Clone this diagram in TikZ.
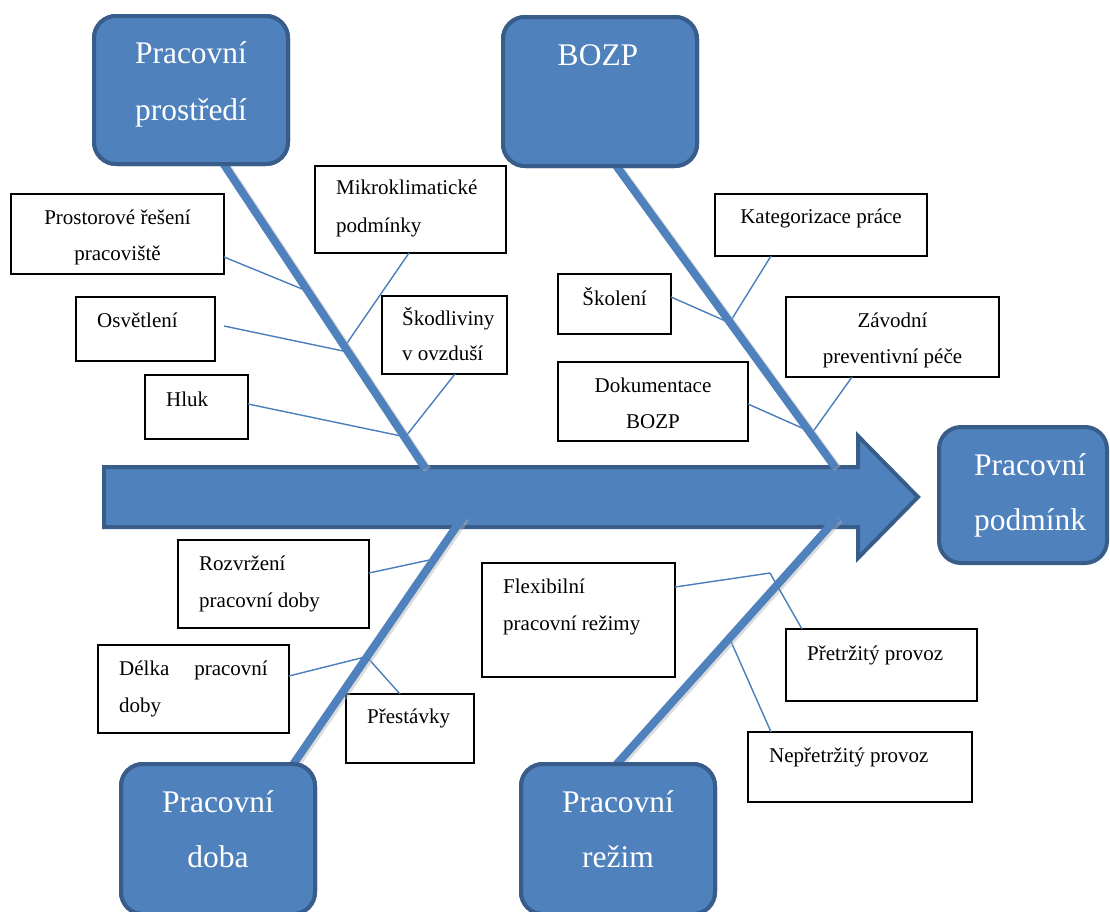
\documentclass[tikz,border=0pt]{standalone}
\usepackage{fontspec}
\setmainfont{Liberation Serif}
\usetikzlibrary{calc}
\definecolor{fillblue}{HTML}{4F81BD}
\definecolor{edgeblue}{HTML}{385D8A}
\definecolor{linkblue}{HTML}{4A7EBB}
\begin{document}
\begin{tikzpicture}[x=1pt,y=-1pt,
  bigbox/.style={draw=edgeblue, fill=fillblue, line width=4pt, rounded corners=22pt, inner sep=0pt, outer sep=0pt},
  bigtext/.style={text=white, font=\fontsize{31.5}{38}\selectfont, anchor=base, inner sep=0pt},
  smallbox/.style={draw=black, line width=1.6pt, fill=white, inner sep=0pt, outer sep=0pt},
  lt/.style={font=\fontsize{21}{25}\selectfont, anchor=base west, inner sep=0pt},
  ct/.style={font=\fontsize{21}{25}\selectfont, anchor=base, inner sep=0pt},
  rt/.style={font=\fontsize{21}{25}\selectfont, anchor=base east, inner sep=0pt},
  bone/.style={draw=fillblue, line width=8pt},
  boneshadow/.style={draw=black!30, line width=8pt, opacity=0.45},
  link/.style={draw=linkblue, line width=1.4pt},
  spine/.style={draw=edgeblue, fill=fillblue, line width=4pt}
]
\useasboundingbox (0,0) rectangle (1110,911);
\clip (0,0) rectangle (1110,911);

% spine arrow
\draw[spine] (104,467) -- (858,467) -- (858,436) -- (918,497) -- (858,558) -- (858,527) -- (104,527) -- cycle;

% big boxes
\node[bigbox, minimum width=194pt, minimum height=148pt] (pp) at (191,90) {};
\node[bigbox, minimum width=194pt, minimum height=149pt] (bozp) at (600,91.5) {};
\node[bigbox, minimum width=168pt, minimum height=136pt] (podm) at (1023,495) {};
\node[bigbox, minimum width=194pt, minimum height=150pt] (doba) at (218,839) {};
\node[bigbox, minimum width=194pt, minimum height=150pt] (rezim) at (618,839) {};

% bone end points
\coordinate (b1s) at (221,160);
\coordinate (b1e) at (425,468);
\coordinate (b2s) at (612,160);
\coordinate (b2e) at (835,467);
\coordinate (b3s) at (463,517);
\coordinate (b3e) at (292,766);
\coordinate (b4s) at (837,518);
\coordinate (b4e) at (615,766);

% small boxes
\node[smallbox, minimum width=213pt, minimum height=80pt] (prost) at (117.5,234) {};
\node[smallbox, minimum width=139pt, minimum height=64pt] (osv) at (145.5,329) {};
\node[smallbox, minimum width=103pt, minimum height=64pt] (hluk) at (196.5,407) {};
\node[smallbox, minimum width=191pt, minimum height=87pt] (mikro) at (410.5,209.5) {};
\node[smallbox, minimum width=125pt, minimum height=78pt] (skod) at (444.5,335) {};
\node[smallbox, minimum width=212pt, minimum height=62pt] (kateg) at (821,225) {};
\node[smallbox, minimum width=113pt, minimum height=60pt] (skol) at (614.5,304) {};
\node[smallbox, minimum width=190pt, minimum height=79pt] (doku) at (653,401.5) {};
\node[smallbox, minimum width=213pt, minimum height=80pt] (zavod) at (892.5,337) {};
\node[smallbox, minimum width=191pt, minimum height=88pt] (rozvr) at (273.5,584) {};
\node[smallbox, minimum width=191pt, minimum height=88pt] (delka) at (193.5,689) {};
\node[smallbox, minimum width=128pt, minimum height=69pt] (prest) at (410,728.5) {};
\node[smallbox, minimum width=193pt, minimum height=114pt] (flex) at (578.5,620) {};
\node[smallbox, minimum width=191pt, minimum height=72pt] (pretr) at (881.5,665) {};
\node[smallbox, minimum width=224pt, minimum height=70pt] (nepre) at (860,767) {};

% points on bones
\coordinate (k1) at (307,291);
\coordinate (k2) at (348,352);
\coordinate (k3) at (406,437);
\coordinate (k4) at (345,346);
\coordinate (k5) at (406,436);
\coordinate (k6) at (730,322);
\coordinate (k7) at (730,323);
\coordinate (k8) at (811,432);
\coordinate (k9) at (812,433);
\coordinate (k10) at (434,559);
\coordinate (k11) at (365,657);
\coordinate (k12) at (367,657);
\coordinate (j1) at (770,573);
\coordinate (k15) at (729,637);

% links (under bones)
\draw[link] (prost.east |- 0,257) -- (k1);
\draw[link] ($(osv.east |- 0,326)+(9,0)$) -- (k2);
\draw[link] (hluk.east |- 0,404) -- (k3);
\draw[link] (mikro.south -| 409,0) -- (k4);
\draw[link] (skod.south -| 455,0) -- (k5);
\draw[link] (kateg.south -| 771,0) -- (k6);
\draw[link] (skol.east |- 0,297) -- (k7);
\draw[link] (doku.east |- 0,404) -- (k8);
\draw[link] (zavod.south -| 852,0) -- (k9);
\draw[link] (rozvr.east |- 0,573) -- (k10);
\draw[link] (delka.east |- 0,676) -- (k11);
\draw[link] (prest.north -| 400,0) -- (k12);
\draw[link] (flex.east |- 0,587) -- (j1);
\draw[link] (k15) -- (nepre.north -| 771,0);

% bones
\foreach \a/\b in {b1s/b1e,b2s/b2e,b3s/b3e,b4s/b4e}{
  \draw[boneshadow] ($(\a)+(2.5,1.5)$) -- ($(\b)+(2.5,1.5)$);
}
\draw[bone] (b1s) -- (b1e);
\draw[bone] (b2s) -- (b2e);
\draw[bone] (b3s) -- (b3e);
\draw[bone] (b4s) -- (b4e);
\draw[link] (j1) -- (pretr.north -| 802,0);

% redraw big boxes over bone starts
\node[bigbox, minimum width=194pt, minimum height=148pt] at (pp.center) {};
\node[bigbox, minimum width=194pt, minimum height=149pt] at (bozp.center) {};
\node[bigbox, minimum width=194pt, minimum height=150pt] at (doba.center) {};
\node[bigbox, minimum width=194pt, minimum height=150pt] at (rezim.center) {};

% big texts
\node[bigtext] (tpp1) at (191,63) {Pracovní};
\node[bigtext] (tpp2) at (191,120) {prostředí};
\node[bigtext] (tbozp) at (598,65) {BOZP};
\node[bigtext] (tpo1) at (1030,475) {Pracovní};
\node[bigtext] (tpo2) at (1030,530) {podmínk};
\node[bigtext] (tdo1) at (218,812) {Pracovní};
\node[bigtext] (tdo2) at (218,867) {doba};
\node[bigtext] (tre1) at (618,812) {Pracovní};
\node[bigtext] (tre2) at (618,867) {režim};

% small texts
\node[ct] (t1a) at (117.5,224) {Prostorové řešení};
\node[ct] (t1b) at (117.5,260) {pracoviště};
\node[lt] (t2) at (97,327) {Osvětlení};
\node[lt] (t3) at (166,406) {Hluk};
\node[lt] (t4a) at (336,194) {Mikroklimatické};
\node[lt] (t4b) at (336,232) {podmínky};
\node[lt] (t5a) at (402,325) {Škodliviny};
\node[lt] (t5b) at (402,360) {v ovzduší};
\node[ct] (t6) at (821,223) {Kategorizace práce};
\node[ct] (t7) at (614.5,305) {Školení};
\node[ct] (t8a) at (653,392) {Dokumentace};
\node[ct] (t8b) at (653,428) {BOZP};
\node[ct] (t9a) at (892.5,327) {Závodní};
\node[ct] (t9b) at (892.5,363) {preventivní péče};
\node[lt] (t10a) at (199,570) {Rozvržení};
\node[lt] (t10b) at (199,607) {pracovní doby};
\node[lt] (t11a) at (119,675) {Délka};
\node[rt] (t11b) at (268,675) {pracovní};
\node[lt] (t11c) at (119,712) {doby};
\node[lt] (t12) at (367,723) {Přestávky};
\node[lt] (t13a) at (503,593) {Flexibilní};
\node[lt] (t13b) at (503,630) {pracovní režimy};
\node[lt] (t14) at (807,660) {Přetržitý provoz};
\node[lt] (t15) at (769,762) {Nepřetržitý provoz};
\end{tikzpicture}
\end{document}
